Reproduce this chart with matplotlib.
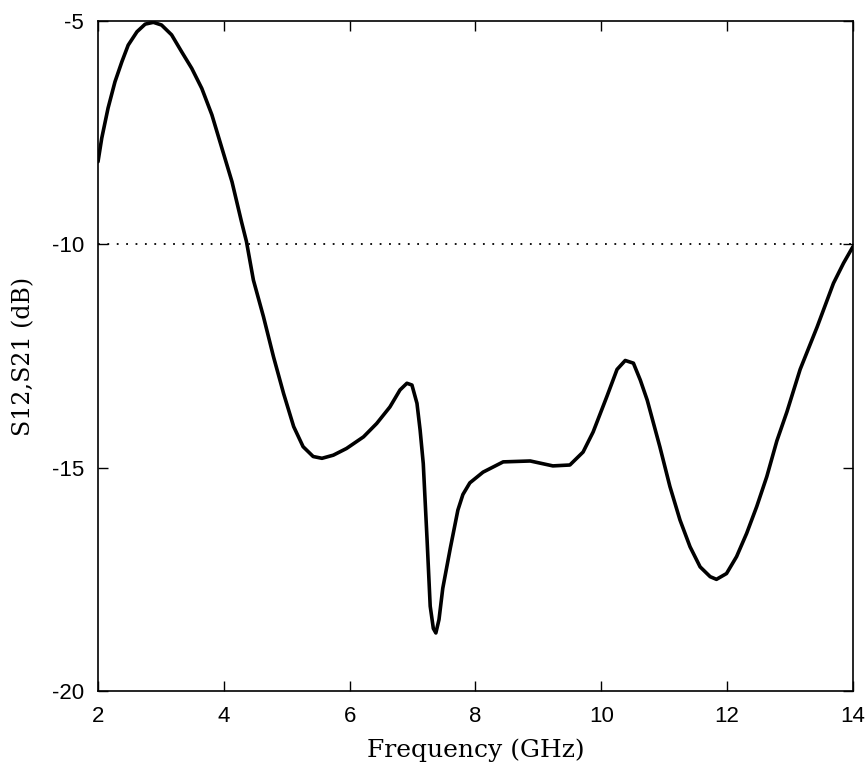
import numpy as np
import matplotlib
matplotlib.use('Agg')
import matplotlib.pyplot as plt

plt.rcParams['axes.unicode_minus'] = False

# values
freq_ghz = [2.00, 2.06, 2.16, 2.27, 2.38, 2.48, 2.62, 2.75, 2.88, 3.01, 3.17,
            3.33, 3.49, 3.65, 3.81, 3.97, 4.13, 4.28, 4.36, 4.47, 4.63, 4.79,
            4.95, 5.11, 5.26, 5.42, 5.56, 5.74, 5.95, 6.22, 6.43, 6.64, 6.80,
            6.91, 6.99, 7.07, 7.12, 7.17, 7.23, 7.28, 7.33, 7.37, 7.42, 7.48,
            7.60, 7.72, 7.80, 7.91, 8.12, 8.44, 8.87, 9.23, 9.50, 9.71, 9.87,
            10.09, 10.25, 10.38, 10.51, 10.62, 10.73, 10.93, 11.09, 11.25,
            11.41, 11.57, 11.73, 11.83, 11.99, 12.15, 12.31, 12.47, 12.63,
            12.79, 12.95, 13.16, 13.43, 13.69, 13.85, 14.00]
s21_db = [-8.15, -7.62, -6.95, -6.36, -5.91, -5.54, -5.24, -5.07, -5.03, -5.09,
          -5.31, -5.69, -6.06, -6.51, -7.10, -7.85, -8.60, -9.49, -9.94, -10.80,
          -11.62, -12.52, -13.34, -14.08, -14.53, -14.75, -14.79, -14.72,
          -14.57, -14.31, -14.01, -13.64, -13.26, -13.11, -13.15, -13.56,
          -14.16, -14.91, -16.6, -18.1, -18.6, -18.7, -18.4, -17.7, -16.8,
          -15.95, -15.6, -15.34, -15.1, -14.87, -14.85, -14.96, -14.94, -14.65,
          -14.2, -13.4, -12.8, -12.6, -12.66, -13.04, -13.49, -14.53, -15.42,
          -16.17, -16.77, -17.22, -17.44, -17.50, -17.37, -16.99, -16.47,
          -15.87, -15.20, -14.40, -13.75, -12.80, -11.85, -10.87, -10.42,
          -10.05]
ref_level = -10
x_ticks = [2, 4, 6, 8, 10, 12, 14]
y_ticks = [-20, -15, -10, -5]

fig = plt.figure(figsize=(8.68, 7.69), dpi=100)
ax = fig.add_axes([0.1129, 0.1014, 0.8698, 0.8713])

ax.plot(freq_ghz, s21_db, color='black', linewidth=2.6,
        solid_joinstyle='round', solid_capstyle='round')
ax.axhline(ref_level, color='black', linestyle=(0, (1, 4.2)), linewidth=1.3)

ax.set_xlim(2, 14)
ax.set_ylim(-20, -5)
ax.set_xticks(x_ticks)
ax.set_yticks(y_ticks)
ax.tick_params(direction='in', length=7, width=1, top=True, right=True,
               labelsize=16)
ax.tick_params(axis='x', pad=11)
ax.tick_params(axis='y', pad=10)
for lab in ax.get_xticklabels() + ax.get_yticklabels():
    lab.set_family(['Liberation Sans Narrow', 'Liberation Sans'])
for sp in ax.spines.values():
    sp.set_linewidth(1.2)

ax.set_xlabel('Frequency (GHz)', family='DejaVu Serif', fontsize=18, labelpad=8)
ax.set_ylabel('S12,S21 (dB)', family='DejaVu Serif', fontsize=17, labelpad=12)

fig.savefig('out.png', dpi=100)
